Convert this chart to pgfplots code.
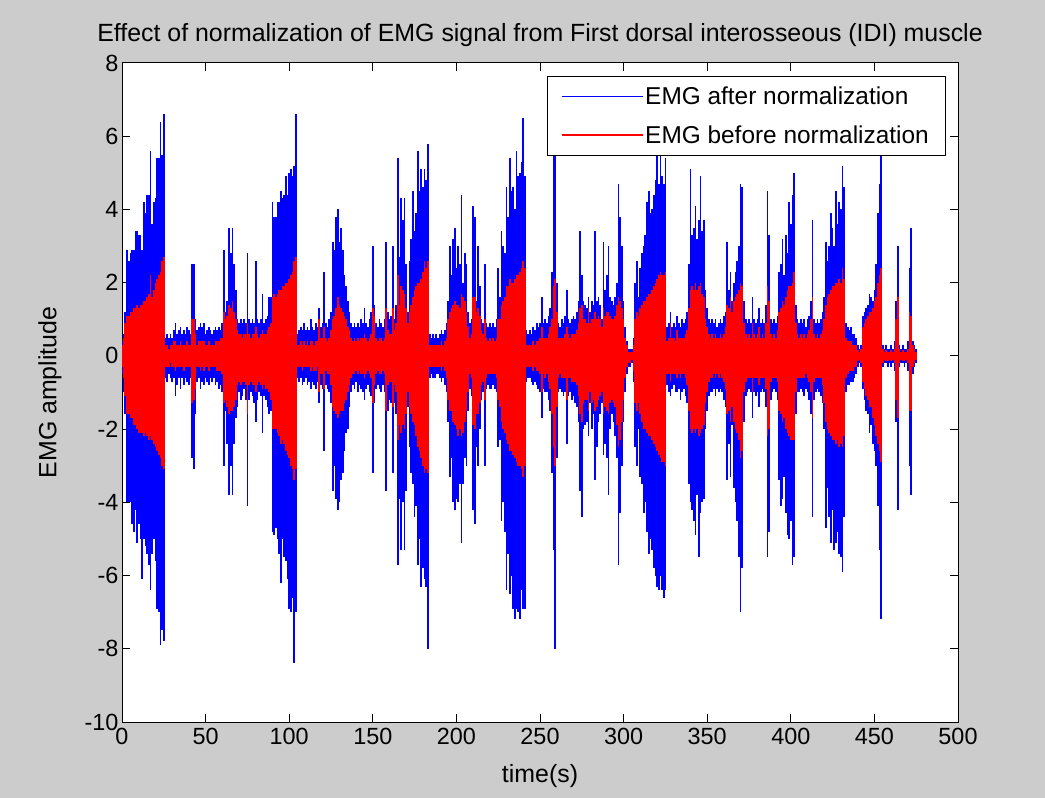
\documentclass[border=0pt]{standalone}
\usepackage{fontspec}
\setmainfont{Liberation Sans}
\usepackage{pgfplots}
\pgfplotsset{compat=1.18}
\usepackage{pgfplotstable}
\definecolor{figgray}{RGB}{204,204,204}
\definecolor{emgblue}{RGB}{0,0,255}
\definecolor{emgred}{RGB}{255,0,0}

\pgfplotstableread{
t bh bl rh rl
0 0.4 -0.5 0.3 -0.3
1 0.6 -1.0 0.5 -0.6
2 1.2 -1.6 0.9 -1.1
3 2.9 -4.0 1.1 -1.6
4 2.6 -4.0 1.1 -1.6
5 2.8 -4.0 1.2 -1.7
6 2.9 -4.6 1.2 -1.7
7 2.9 -4.8 1.3 -1.9
8 3.4 -4.2 1.3 -1.9
9 3.4 -5.1 1.4 -2.0
10 3.3 -4.6 1.3 -2.1
11 3.3 -5.0 1.4 -2.1
12 2.9 -6.1 1.4 -2.1
13 4.2 -5.0 1.5 -2.2
14 3.9 -5.2 1.5 -2.1
15 4.4 -5.4 1.6 -2.2
16 4.4 -5.7 1.7 -2.3
17 5.6 -6.4 2.2 -2.2
18 3.6 -5.4 1.6 -2.3
19 4.2 -5.0 1.8 -2.4
20 4.3 -5.6 2.0 -2.5
21 5.4 -6.9 2.1 -2.6
22 5.4 -7.0 2.2 -2.7
23 6.4 -7.9 2.3 -2.8
24 5.5 -7.5 2.6 -3.0
25 6.6 -7.8 2.7 -3.1
26 0.5 -0.6 0.3 -0.3
27 0.6 -0.7 0.3 -0.3
28 0.5 -0.5 0.2 -0.3
29 0.6 -0.6 0.3 -0.2
30 0.5 -0.7 0.3 -0.3
31 0.7 -0.6 0.4 -0.3
32 0.9 -1.1 0.4 -0.4
33 0.6 -0.8 0.3 -0.3
34 0.7 -0.6 0.3 -0.3
35 0.8 -0.9 0.4 -0.3
36 0.6 -0.6 0.3 -0.3
37 0.7 -0.8 0.3 -0.4
38 0.6 -0.6 0.3 -0.3
39 0.8 -0.7 0.4 -0.3
40 0.7 -0.8 0.3 -0.3
41 0.6 -0.6 0.3 -0.3
42 2.5 -2.8 1.0 -1.3
43 2.5 -3.1 1.0 -1.2
44 1.0 -1.6 0.6 -0.9
45 0.7 -0.7 0.3 -0.3
46 0.8 -0.6 0.4 -0.3
47 0.9 -0.9 0.4 -0.4
48 0.8 -0.7 0.4 -0.3
49 0.9 -0.8 0.4 -0.4
50 0.6 -0.6 0.3 -0.3
51 0.7 -0.7 0.3 -0.3
52 0.8 -0.8 0.4 -0.4
53 0.7 -0.6 0.3 -0.3
54 0.6 -0.7 0.3 -0.3
55 0.7 -0.6 0.3 -0.3
56 0.8 -0.8 0.4 -0.3
57 0.7 -0.7 0.4 -0.4
58 0.8 -0.9 0.4 -0.4
59 0.7 -0.8 0.5 -0.4
60 0.9 -1.0 0.5 -0.5
61 2.9 -3.0 1.2 -1.3
62 1.2 -1.5 1.0 -1.2
63 1.5 -2.4 1.1 -1.4
64 3.5 -3.8 1.4 -1.6
65 2.8 -3.0 1.3 -1.5
66 3.5 -3.8 1.5 -1.5
67 2.5 -2.4 1.2 -1.4
68 1.8 -1.7 1.0 -1.2
69 1.0 -1.4 0.7 -0.8
70 0.9 -1.0 0.6 -0.7
71 1.0 -1.2 0.6 -0.8
72 0.9 -1.1 0.5 -0.7
73 1.0 -0.9 0.6 -0.7
74 0.9 -1.2 0.6 -0.8
75 2.8 -4.1 0.9 -1.6
76 1.0 -1.2 0.6 -0.8
77 0.9 -1.0 0.5 -0.7
78 1.0 -1.1 0.6 -0.8
79 0.9 -1.3 0.6 -0.8
80 2.6 -1.8 0.8 -1.0
81 1.0 -1.2 0.6 -0.8
82 0.9 -1.0 0.5 -0.7
83 1.0 -1.1 0.6 -0.8
84 1.7 -2.1 0.7 -0.9
85 0.9 -1.1 0.6 -0.8
86 1.0 -1.2 0.6 -0.9
87 1.1 -1.4 0.7 -0.9
88 1.6 -1.6 0.8 -1.0
89 1.6 -1.5 0.9 -1.2
90 4.2 -4.8 1.6 -2.0
91 3.8 -4.9 1.7 -2.0
92 3.8 -4.7 1.6 -2.0
93 4.2 -5.0 1.7 -2.1
94 4.2 -5.4 1.8 -2.2
95 4.5 -6.2 1.8 -2.4
96 4.3 -5.0 1.9 -2.3
97 4.4 -5.5 1.9 -2.4
98 4.9 -5.6 2.0 -2.6
99 4.4 -6.1 2.0 -2.7
100 5.0 -6.9 2.1 -2.8
101 5.1 -7.0 2.2 -3.0
102 4.9 -6.6 2.3 -3.1
103 5.2 -8.4 2.6 -3.4
104 6.6 -7.0 2.7 -3.1
105 0.6 -0.6 0.3 -0.3
106 0.7 -0.7 0.3 -0.3
107 0.8 -0.6 0.4 -0.3
108 0.7 -0.8 0.3 -0.4
109 0.9 -0.7 0.4 -0.3
110 0.7 -0.6 0.3 -0.3
111 0.8 -0.8 0.4 -0.3
112 0.7 -0.7 0.3 -0.3
113 1.0 -0.9 0.4 -0.4
114 0.8 -0.7 0.4 -0.3
115 0.7 -0.8 0.3 -0.4
116 0.9 -0.9 0.4 -0.4
117 0.8 -0.7 0.4 -0.3
118 1.3 -1.3 1.0 -1.0
119 0.8 -0.8 0.5 -0.5
120 0.9 -0.9 0.5 -0.5
121 2.3 -2.6 0.8 -0.9
122 0.9 -0.8 0.5 -0.4
123 0.8 -0.9 0.4 -0.5
124 1.0 -1.0 0.5 -0.5
125 1.2 -1.3 0.7 -0.8
126 3.1 -3.7 1.0 -1.4
127 2.9 -3.0 1.1 -1.5
128 3.8 -3.9 1.3 -1.6
129 4.0 -4.2 1.6 -1.7
130 3.1 -4.0 1.4 -1.6
131 3.5 -3.4 1.3 -1.5
132 2.9 -3.2 1.2 -1.5
133 2.2 -2.6 1.1 -1.3
134 1.9 -2.1 1.0 -1.2
135 1.5 -2.0 0.8 -1.0
136 1.2 -1.4 0.7 -0.8
137 0.9 -1.0 0.5 -0.6
138 0.8 -0.8 0.4 -0.5
139 0.9 -0.9 0.5 -0.5
140 0.8 -0.7 0.4 -0.4
141 0.9 -1.0 0.5 -0.5
142 0.8 -0.8 0.4 -0.4
143 1.0 -0.9 0.5 -0.5
144 0.9 -1.0 0.5 -0.5
145 1.3 -1.2 0.6 -0.6
146 0.9 -0.9 0.5 -0.5
147 0.8 -0.8 0.4 -0.4
148 1.0 -1.0 0.5 -0.5
149 1.2 -1.1 0.6 -0.6
150 3.0 -3.2 1.3 -1.3
151 1.4 -1.3 1.1 -0.8
152 0.9 -0.9 0.5 -0.5
153 0.8 -0.8 0.4 -0.4
154 1.0 -0.9 0.5 -0.5
155 0.9 -1.0 0.5 -0.5
156 0.8 -0.8 0.4 -0.4
157 1.0 -1.0 0.5 -0.5
158 3.1 -3.7 1.3 -1.5
159 1.2 -1.5 0.7 -0.8
160 1.0 -1.2 0.6 -0.7
161 1.1 -1.3 0.6 -0.7
162 3.0 -3.2 1.3 -1.4
163 1.0 -1.3 0.7 -0.8
164 1.4 -1.6 0.9 -1.0
165 5.4 -5.7 2.2 -2.3
166 2.7 -3.9 1.4 -1.9
167 4.3 -5.3 1.9 -2.1
168 3.7 -4.0 1.8 -1.9
169 4.3 -5.3 1.7 -2.0
170 2.5 -3.7 1.3 -1.6
171 1.2 -1.4 0.9 -1.0
172 2.6 -2.5 1.2 -1.4
173 3.2 -3.2 1.4 -1.6
174 4.5 -3.5 1.6 -1.8
175 3.4 -4.4 1.8 -1.9
176 3.9 -4.1 1.9 -2.2
177 5.6 -5.7 2.0 -2.5
178 4.5 -5.0 2.0 -2.6
179 5.1 -6.3 2.1 -2.8
180 4.6 -5.8 2.3 -3.0
181 5.1 -6.1 2.6 -3.2
182 4.8 -6.3 2.4 -3.1
183 5.8 -8.0 2.6 -3.2
184 0.6 -0.6 0.3 -0.3
185 0.5 -0.5 0.3 -0.3
186 0.6 -0.6 0.3 -0.3
187 0.5 -0.6 0.3 -0.3
188 0.6 -0.5 0.3 -0.3
189 0.5 -0.5 0.3 -0.3
190 0.6 -0.6 0.3 -0.3
191 0.7 -0.7 0.4 -0.4
192 0.6 -0.6 0.3 -0.3
193 0.7 -0.8 0.4 -0.4
194 0.9 -1.0 0.5 -0.6
195 1.5 -1.8 1.0 -1.2
196 3.0 -3.3 1.2 -1.5
197 2.2 -2.8 1.3 -1.5
198 3.2 -4.0 1.4 -1.8
199 3.5 -4.2 1.5 -1.9
200 2.4 -3.9 1.4 -2.0
201 3.0 -4.0 1.4 -2.2
202 2.5 -3.5 1.3 -2.0
203 4.4 -5.1 1.7 -2.2
204 2.0 -3.5 1.6 -2.1
205 2.8 -2.8 1.5 -1.8
206 2.5 -3.0 1.2 -1.5
207 1.2 -1.5 0.8 -1.0
208 0.9 -0.9 0.5 -0.5
209 1.0 -1.1 0.6 -0.6
210 4.1 -4.2 1.6 -1.9
211 3.8 -4.6 1.6 -2.0
212 1.5 -2.5 1.2 -1.6
213 3.0 -3.0 1.3 -1.6
214 1.9 -2.0 1.1 -1.3
215 1.0 -1.2 0.7 -0.8
216 0.9 -1.0 0.6 -0.7
217 2.5 -3.0 1.0 -1.2
218 0.9 -0.9 0.5 -0.6
219 0.8 -0.8 0.4 -0.5
220 0.9 -0.9 0.5 -0.5
221 0.8 -0.9 0.4 -0.5
222 0.9 -0.8 0.5 -0.5
223 0.8 -0.9 0.4 -0.5
224 1.0 -1.0 0.5 -0.6
225 2.4 -2.5 1.0 -1.2
226 1.6 -2.3 1.0 -1.4
227 3.4 -4.5 1.4 -1.8
228 3.0 -4.0 1.5 -2.0
229 2.8 -4.8 1.6 -2.1
230 4.6 -6.4 1.9 -2.3
231 3.8 -5.4 1.9 -2.4
232 5.4 -6.5 2.1 -2.6
233 4.5 -6.0 2.0 -2.6
234 4.6 -6.9 2.0 -2.7
235 4.0 -7.2 2.1 -2.8
236 5.6 -6.9 2.2 -2.9
237 4.9 -7.0 2.2 -3.0
238 5.0 -7.2 2.3 -3.0
239 5.3 -6.4 2.4 -3.1
240 6.5 -6.9 2.6 -3.3
241 4.9 -6.9 2.4 -3.0
242 0.7 -0.7 0.3 -0.3
243 0.6 -0.6 0.3 -0.3
244 0.7 -0.6 0.3 -0.3
245 0.6 -0.7 0.3 -0.3
246 0.8 -0.8 0.4 -0.4
247 0.7 -0.7 0.3 -0.3
248 0.9 -0.8 0.4 -0.4
249 0.8 -0.9 0.4 -0.4
250 0.9 -1.0 0.5 -0.5
251 1.6 -1.7 0.8 -1.0
252 0.9 -0.9 0.5 -0.5
253 1.0 -1.0 0.5 -0.6
254 0.9 -1.0 0.5 -0.5
255 1.1 -1.2 0.6 -0.7
256 1.3 -1.5 0.8 -0.9
257 2.3 -3.2 1.0 -1.6
258 5.6 -5.3 1.9 -2.5
259 6.5 -8.0 2.1 -3.0
260 2.0 -2.8 1.2 -1.4
261 0.9 -1.0 0.5 -0.6
262 0.8 -0.9 0.5 -0.5
263 1.0 -1.0 0.5 -0.6
264 0.9 -1.1 0.5 -0.6
265 1.1 -1.0 0.6 -0.6
266 1.8 -2.4 0.8 -1.2
267 1.0 -1.1 0.6 -0.6
268 0.9 -1.0 0.5 -0.6
269 1.0 -1.2 0.6 -0.7
270 1.1 -1.1 0.6 -0.7
271 1.0 -1.3 0.6 -0.7
272 1.2 -1.4 0.7 -0.8
273 1.5 -1.8 0.9 -1.1
274 3.4 -3.7 1.3 -1.6
275 2.2 -4.4 1.4 -1.8
276 1.5 -2.0 1.0 -1.3
277 1.4 -1.9 1.0 -1.2
278 1.3 -1.8 0.9 -1.2
279 1.6 -2.2 1.3 -1.5
280 1.2 -1.3 0.9 -1.0
281 1.5 -2.0 1.0 -1.3
282 1.4 -1.6 1.0 -1.2
283 3.4 -3.4 1.2 -1.5
284 1.5 -2.5 1.0 -1.4
285 1.6 -1.8 1.1 -1.2
286 1.4 -1.6 1.0 -1.1
287 1.0 -1.3 0.8 -1.0
288 3.1 -2.7 1.3 -1.6
289 1.8 -2.4 1.1 -1.4
290 2.2 -2.8 1.2 -1.5
291 3.0 -3.8 1.2 -1.6
292 1.6 -2.0 1.1 -1.3
293 1.5 -1.6 1.0 -1.2
294 1.4 -1.8 1.0 -1.3
295 1.6 -2.2 1.1 -1.4
296 2.0 -2.8 1.4 -1.9
297 4.7 -5.7 1.6 -2.5
298 3.8 -4.3 1.5 -2.3
299 3.0 -3.0 1.3 -1.8
300 1.5 -1.8 1.0 -1.2
301 0.8 -1.0 0.5 -0.6
302 0.4 -0.5 0.3 -0.3
303 0.2 -0.3 0.1 -0.2
304 0.2 -0.3 0.1 -0.2
305 0.2 -0.2 0.1 -0.1
306 0.5 -0.7 0.3 -0.4
307 2.0 -2.5 1.0 -1.3
308 2.6 -3.0 1.2 -1.5
309 1.6 -2.0 1.1 -1.3
310 2.4 -3.3 1.3 -1.6
311 2.8 -3.5 1.4 -1.8
312 3.0 -4.3 1.5 -2.0
313 3.3 -4.0 1.5 -2.0
314 4.2 -4.8 1.6 -2.1
315 4.5 -5.4 1.7 -2.2
316 3.9 -5.0 1.7 -2.2
317 4.0 -5.3 1.8 -2.3
318 4.4 -5.8 1.9 -2.4
319 4.8 -6.0 2.0 -2.5
320 5.7 -6.3 2.1 -2.6
321 4.7 -6.4 2.2 -2.7
322 5.5 -6.0 2.3 -2.8
323 4.9 -6.4 2.2 -2.9
324 4.7 -6.6 2.2 -2.9
325 5.4 -6.4 2.3 -3.0
326 0.8 -0.8 0.4 -0.5
327 0.9 -1.0 0.5 -0.5
328 1.2 -1.1 0.9 -0.7
329 0.8 -0.9 0.5 -0.5
330 0.9 -0.8 0.5 -0.5
331 0.8 -1.0 0.4 -0.5
332 1.1 -1.0 0.7 -0.6
333 0.9 -0.9 0.5 -0.5
334 0.8 -1.2 0.5 -0.6
335 1.0 -1.0 0.5 -0.5
336 0.9 -0.9 0.5 -0.5
337 1.0 -1.1 0.6 -0.6
338 1.2 -1.3 0.7 -0.8
339 2.5 -3.5 1.3 -1.5
340 5.1 -4.0 1.8 -2.0
341 3.3 -4.2 1.9 -2.1
342 3.5 -4.5 1.8 -2.0
343 4.1 -4.9 2.0 -2.1
344 3.2 -3.8 1.8 -2.0
345 3.7 -5.5 1.9 -2.2
346 4.9 -4.3 2.0 -2.1
347 3.4 -4.0 1.7 -2.0
348 3.7 -3.9 1.6 -1.9
349 1.8 -2.0 1.0 -1.3
350 1.3 -1.5 0.8 -1.0
351 1.0 -1.1 0.6 -0.7
352 0.9 -1.0 0.5 -0.6
353 1.0 -1.0 0.6 -0.6
354 0.9 -0.9 0.5 -0.5
355 1.0 -1.1 0.6 -0.6
356 0.8 -0.9 0.5 -0.5
357 0.9 -1.0 0.5 -0.6
358 1.0 -0.9 0.6 -0.5
359 0.9 -1.0 0.5 -0.6
360 1.1 -1.2 0.6 -0.7
361 1.2 -1.4 0.8 -0.9
362 3.1 -3.4 1.4 -1.6
363 1.8 -2.4 1.3 -1.5
364 2.3 -3.3 1.6 -1.8
365 1.5 -1.9 1.2 -1.4
366 2.0 -3.6 1.5 -1.8
367 2.3 -4.0 1.6 -2.0
368 2.6 -4.5 1.7 -2.1
369 3.0 -5.5 1.8 -2.3
370 4.7 -7.0 2.0 -2.8
371 4.6 -5.8 1.9 -2.6
372 1.5 -1.8 0.9 -1.0
373 1.0 -1.1 0.6 -0.7
374 0.9 -1.0 0.5 -0.6
375 1.0 -0.9 0.6 -0.6
376 0.9 -1.0 0.5 -0.6
377 1.6 -1.7 0.9 -1.0
378 1.0 -1.0 0.6 -0.6
379 0.9 -1.1 0.5 -0.6
380 1.0 -1.0 0.6 -0.6
381 1.3 -1.4 0.8 -0.8
382 0.9 -1.0 0.5 -0.6
383 1.0 -0.9 0.6 -0.6
384 0.9 -1.0 0.5 -0.6
385 1.4 -1.4 0.9 -0.9
386 4.5 -5.5 1.9 -2.2
387 3.3 -4.8 1.5 -2.0
388 1.0 -1.2 0.6 -0.7
389 0.9 -1.0 0.5 -0.6
390 1.0 -0.9 0.6 -0.6
391 0.9 -1.0 0.5 -0.6
392 1.1 -1.2 0.7 -0.7
393 2.3 -3.4 1.2 -1.5
394 2.5 -4.1 1.3 -1.6
395 3.2 -3.9 1.5 -1.8
396 2.2 -3.3 1.4 -1.7
397 3.3 -4.3 1.6 -2.0
398 2.8 -4.9 1.8 -2.1
399 4.2 -5.0 1.9 -2.2
400 3.6 -4.5 1.9 -2.3
401 4.4 -5.7 2.0 -2.3
402 5.0 -5.5 2.3 -2.3
403 1.4 -1.6 0.9 -1.0
404 1.0 -1.0 0.6 -0.6
405 0.9 -1.0 0.5 -0.6
406 1.0 -0.9 0.6 -0.6
407 0.9 -1.0 0.5 -0.6
408 1.0 -1.1 0.6 -0.6
409 0.8 -0.9 0.5 -0.5
410 1.0 -1.0 0.6 -0.6
411 1.1 -1.2 0.7 -0.7
412 1.5 -1.6 1.0 -1.0
413 3.7 -4.4 1.6 -1.7
414 1.0 -1.2 0.6 -0.7
415 0.9 -1.0 0.5 -0.6
416 1.0 -0.9 0.6 -0.6
417 0.9 -1.0 0.5 -0.6
418 1.0 -1.1 0.6 -0.6
419 1.2 -1.3 0.7 -0.8
420 1.6 -2.0 1.0 -1.3
421 3.1 -4.7 1.4 -1.8
422 2.6 -3.6 1.6 -2.0
423 3.0 -4.4 1.7 -2.1
424 3.9 -5.1 1.8 -2.2
425 3.5 -4.2 1.9 -2.3
426 3.0 -5.3 1.9 -2.3
427 4.5 -5.1 2.0 -2.4
428 3.6 -4.8 2.0 -2.3
429 4.2 -5.4 2.1 -2.5
430 4.0 -5.5 2.0 -2.4
431 5.2 -5.9 2.4 -2.5
432 4.6 -4.4 2.1 -2.2
433 0.9 -1.0 0.5 -0.6
434 0.8 -0.8 0.4 -0.5
435 0.7 -0.8 0.4 -0.4
436 0.8 -0.7 0.4 -0.4
437 0.6 -0.7 0.3 -0.4
438 0.6 -0.6 0.3 -0.3
439 0.5 -0.5 0.3 -0.3
440 0.3 -0.3 0.15 -0.15
441 0.2 -0.2 0.1 -0.1
442 0.3 -0.3 0.2 -0.2
443 1.1 -0.9 0.8 -0.7
444 1.2 -1.2 0.9 -0.9
445 1.3 -1.5 1.0 -1.1
446 1.4 -1.6 1.1 -1.2
447 1.7 -2.1 1.2 -1.4
448 1.6 -1.9 1.2 -1.4
449 1.5 -2.4 1.3 -1.7
450 1.8 -2.6 1.5 -1.9
451 2.5 -3.0 1.6 -2.2
452 3.9 -4.1 2.0 -2.4
453 4.7 -5.3 2.2 -2.6
454 5.5 -7.2 2.4 -2.9
455 0.3 -0.3 0.2 -0.2
456 0.2 -0.2 0.1 -0.1
457 0.3 -0.2 0.15 -0.15
458 0.2 -0.3 0.1 -0.15
459 0.2 -0.2 0.1 -0.1
460 0.3 -0.3 0.15 -0.15
461 0.2 -0.2 0.1 -0.1
462 0.4 -0.4 0.2 -0.2
463 1.5 -1.8 1.0 -1.2
464 3.0 -4.2 1.6 -1.7
465 0.3 -0.3 0.2 -0.2
466 0.2 -0.2 0.1 -0.1
467 0.3 -0.2 0.15 -0.15
468 0.2 -0.3 0.1 -0.15
469 0.2 -0.2 0.1 -0.1
470 0.4 -0.4 0.2 -0.2
471 2.4 -3.0 1.2 -1.5
472 3.5 -3.8 1.1 -1.5
473 0.4 -0.5 0.3 -0.3
474 0.3 -0.3 0.2 -0.2
475 0.2 -0.2 0.1 -0.1
}\emg

\begin{document}
\begin{tikzpicture}
\fill[figgray] (0,0) rectangle (1045bp,798bp);
\begin{axis}[
  at={(122bp,76bp)}, anchor=south west,
  scale only axis, width=836bp, height=659bp,
  xmin=0, xmax=500, ymin=-10, ymax=8,
  xtick={0,50,...,500}, ytick={-10,-8,...,8},
  tick align=inside, major tick length=8bp,
  axis background/.style={fill=white},
  axis line style={line width=1bp, black},
  every tick/.style={black, line width=1bp},
  tick label style={font=\fontsize{23.5}{28}\selectfont, black},
  xticklabel style={yshift=-3bp},
  /pgf/number format/assume math mode=true,
  every axis title/.style={at={(0.5,1)}, anchor=base, yshift=21bp, font=\fontsize{25}{30}\selectfont},
  every axis x label/.style={at={(0.5,0)}, anchor=base, yshift=-60bp, font=\fontsize{25}{30}\selectfont},
  every axis y label/.style={at={(-0.0861,0.5)}, anchor=center, rotate=90, font=\fontsize{25}{30}\selectfont},
  title={Effect of normalization of EMG signal from First dorsal interosseous (IDI) muscle},
  xlabel={time(s)},
  ylabel={EMG amplitude},
  legend image code/.code={\draw[#1] (0bp,0bp) -- (77bp,0bp); \path (0bp,0bp) -- (81bp,0bp);},
  legend style={at={(0.9844,0.9803)}, anchor=north east, draw=black, fill=white,
    font=\fontsize{24.5}{29}\selectfont, inner xsep=14bp, inner ysep=9bp, row sep=15bp},
  legend cell align=left,
]
\addplot[emgblue, ycomb, line width=1.7bp, forget plot] table[x=t, y=bh]{\emg};
\addplot[emgblue, ycomb, line width=1.7bp, forget plot] table[x=t, y=bl]{\emg};
\addplot[emgred, ycomb, line width=1.7bp, forget plot] table[x=t, y=rh]{\emg};
\addplot[emgred, ycomb, line width=1.7bp, forget plot] table[x=t, y=rl]{\emg};
\addlegendimage{emgblue, line width=1.2bp}
\addlegendentry{EMG after normalization}
\addlegendimage{emgred, line width=1.2bp}
\addlegendentry{EMG before normalization}
\end{axis}
\pgfresetboundingbox
\useasboundingbox (0,0) rectangle (1045bp,798bp);
\end{tikzpicture}
\end{document}
